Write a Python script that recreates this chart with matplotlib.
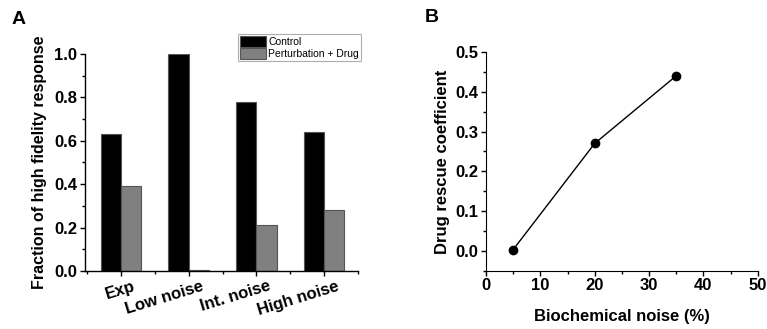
import matplotlib
matplotlib.use("Agg")
import matplotlib.pyplot as plt
import matplotlib.transforms as mtransforms
import numpy as np
from matplotlib.ticker import MultipleLocator

plt.rcParams['font.family'] = ['Liberation Sans', 'DejaVu Sans']
plt.rcParams['font.weight'] = 'bold'

categories = ["Exp", "Low noise", "Int. noise", "High noise"]
control = [0.63, 1.0, 0.78, 0.64]
pert_drug = [0.39, 0.005, 0.21, 0.28]
series_names = ["Control", "Perturbation + Drug"]

noise_pct = [5, 20, 35]
rescue = [0.003, 0.27, 0.44]

W, H = 767, 329
fig = plt.figure(figsize=(W / 100, H / 100), dpi=100)

def ax_rect(l, r, b, t):
    return [l / W, (H - b) / H, (r - l) / W, (b - t) / H]

# Panel A
axA = fig.add_axes(ax_rect(85, 358, 271, 54))
x = np.arange(len(categories))
bw = 0.3
axA.bar(x - bw / 2, control, bw, color='black', edgecolor='#555555', lw=0.8, label=series_names[0])
axA.bar(x + bw / 2, pert_drug, bw, color='#808080', edgecolor='#555555', lw=0.8, label=series_names[1])
axA.set_xlim(-0.53, 3.5)
axA.set_ylim(0, 1.0)
axA.spines['top'].set_visible(False)
axA.spines['right'].set_visible(False)
axA.xaxis.set_minor_locator(MultipleLocator(1.0, offset=0.5))
axA.yaxis.set_minor_locator(MultipleLocator(0.1))
axA.tick_params(which='major', length=3.5, width=1, direction='out', pad=2)
axA.tick_params(which='minor', length=2, width=1, direction='out')
axA.set_yticks(np.arange(0, 1.01, 0.2))
axA.set_yticklabels([f"{v:.1f}" for v in np.arange(0, 1.01, 0.2)], fontsize=12, fontweight='bold')
axA.set_xticks(x)
axA.set_xticklabels(categories, rotation=17, fontsize=12, fontweight='bold',
                    ha='right', va='top', rotation_mode='anchor')
offset = mtransforms.ScaledTranslation(0.12, 0.0, fig.dpi_scale_trans)
for lab in axA.xaxis.get_majorticklabels():
    lab.set_transform(lab.get_transform() + offset)
axA.set_ylabel("Fraction of high fidelity response", fontsize=11.5, fontweight='bold', labelpad=5)
for s in ['left', 'bottom']:
    axA.spines[s].set_linewidth(1)
leg = axA.legend(loc='upper right', bbox_to_anchor=(1.011, 1.092), fontsize=7.5, frameon=True, fancybox=False,
                 edgecolor='#999999', borderpad=0.2, handlelength=2.5, handleheight=1.3,
                 handletextpad=0.2, labelspacing=0.05, borderaxespad=0)
leg.get_frame().set_linewidth(0.8)
for t in leg.get_texts():
    t.set_fontweight('normal')

# Panel B
axB = fig.add_axes(ax_rect(486, 757.7, 270.7, 52))
axB.plot(noise_pct, rescue, color='black', lw=1, marker='o', ms=6)
axB.set_xlim(0, 50)
axB.set_ylim(-0.05, 0.5)
axB.spines['top'].set_visible(False)
axB.spines['right'].set_visible(False)
axB.set_xticks(np.arange(0, 51, 10))
axB.set_xticklabels([str(v) for v in range(0, 51, 10)], fontsize=12, fontweight='bold')
axB.xaxis.set_minor_locator(MultipleLocator(5))
axB.set_yticks(np.arange(0, 0.51, 0.1))
axB.set_yticklabels([f"{v:.1f}" for v in np.arange(0, 0.51, 0.1)], fontsize=12, fontweight='bold')
axB.yaxis.set_minor_locator(MultipleLocator(0.05))
axB.tick_params(which='major', length=3.5, width=1, direction='out', pad=2)
axB.tick_params(which='minor', length=2, width=1, direction='out')
axB.set_ylabel("Drug rescue coefficient", fontsize=12, fontweight='bold', labelpad=4)
axB.set_xlabel("Biochemical noise (%)", fontsize=12, fontweight='bold', labelpad=11)

fig.text(19 / W, 1 - 19 / H, "A", fontsize=14, fontweight='bold', ha='center', va='center')
fig.text(432 / W, 1 - 18 / H, "B", fontsize=14, fontweight='bold', ha='center', va='center')

fig.savefig("out.png", dpi=100)
